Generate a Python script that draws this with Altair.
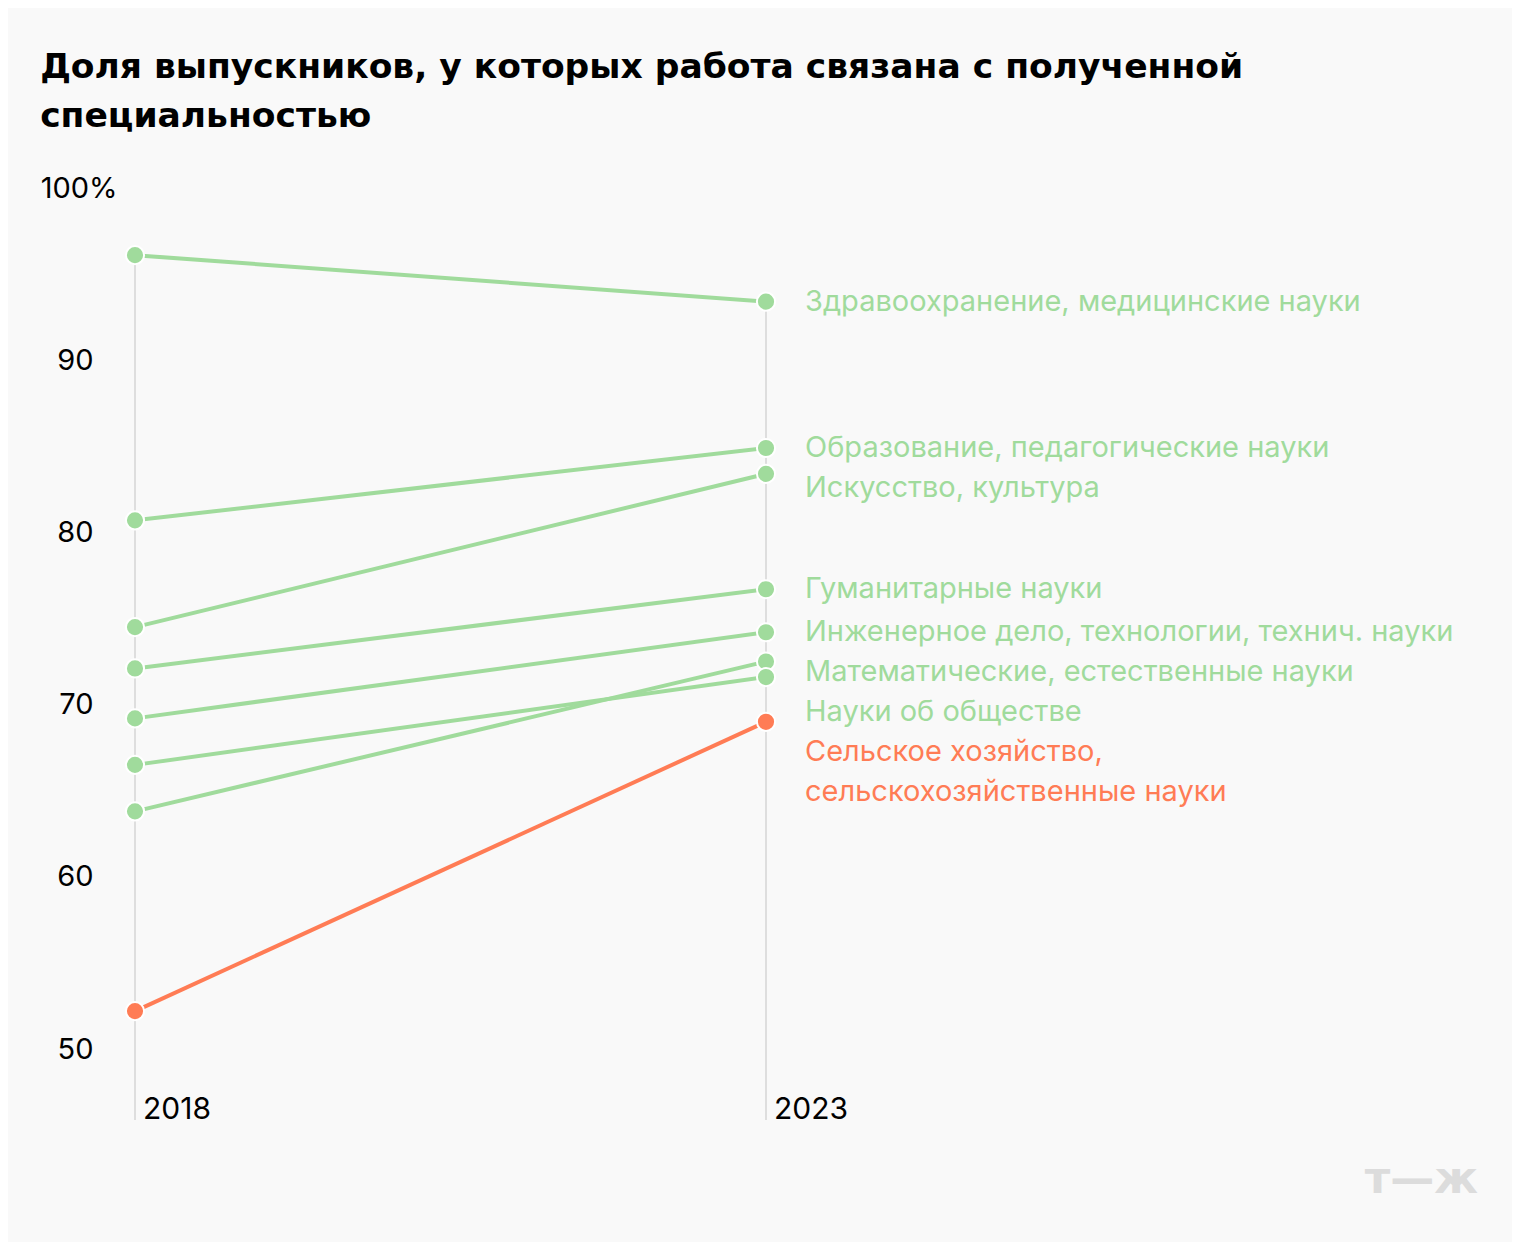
import altair as alt
import pandas as pd

# ---- data ----
categories = [
    "Здравоохранение, медицинские науки",
    "Образование, педагогические науки",
    "Искусство, культура",
    "Гуманитарные науки",
    "Инженерное дело, технологии, технич. науки",
    "Математические, естественные науки",
    "Науки об обществе",
    "Сельское хозяйство,\nсельскохозяйственные науки",
]
values_2018 = [96.1, 80.7, 74.5, 72.1, 69.2, 63.8, 66.5, 52.2]
values_2023 = [93.4, 84.9, 83.4, 76.7, 74.2, 72.5, 71.6, 69.0]
highlight = [False, False, False, False, False, False, False, True]
years = [2018, 2023]
y_ticks = [50, 60, 70, 80, 90, 100]

GREEN = "#a0db9c"
ORANGE = "#ff7c55"
FONT = "Inter"
W, H = 631, 861
Y_MIN, Y_MAX = 50, 100
LABEL_PX = 40  # spacing between label lines, pixels
gap = LABEL_PX / (H / (Y_MAX - Y_MIN))

# long table
rows = []
for c, a, b, h in zip(categories, values_2018, values_2023, highlight):
    grp = "hi" if h else "base"
    rows.append({"cat": c, "year": 2018, "value": a, "grp": grp})
    rows.append({"cat": c, "year": 2023, "value": b, "grp": grp})
df = pd.DataFrame(rows)

# label positions (simple top-down dodge); y = first line of each label
order = sorted(range(len(categories)), key=lambda i: -values_2023[i])
lab_rows = []
prev_first, prev_lines = None, 1
for i in order:
    n_lines = categories[i].count("\n") + 1
    first = values_2023[i]
    if prev_first is not None:
        first = min(first, prev_first - gap * prev_lines)
    lab_rows.append({"cat": categories[i], "year": 2023, "ly": first,
                     "grp": "hi" if highlight[i] else "base"})
    prev_first, prev_lines = first, n_lines
labels_df = pd.DataFrame(lab_rows)

years_df = pd.DataFrame({"year": years, "txt": [str(y) for y in years]})

color_scale = alt.Scale(domain=["base", "hi"], range=[GREEN, ORANGE])
xs = alt.X("year:Q", scale=alt.Scale(domain=[2018, 2023]), axis=None)
ys = alt.Scale(domain=[Y_MIN, Y_MAX], nice=False, zero=False)

base = alt.Chart(df)

rules = base.transform_aggregate(
    maxv="max(value)", groupby=["year"]
).mark_rule(color="#dedede", strokeWidth=2).encode(
    x=xs,
    y=alt.Y("maxv:Q", scale=ys,
            axis=alt.Axis(values=y_ticks, grid=False, domain=False, ticks=False,
                          labelFont=FONT, labelFontSize=29, labelColor="#000",
                          labelExpr="datum.value == 100 ? '100%' : datum.label",
                          labelPadding={"condition": {"test": "datum.value == 100", "value": 18},
                                        "value": 42},
                          title=None)),
    y2=alt.value(H + 71),
)

lines = base.mark_line(strokeWidth=4).encode(
    x=xs,
    y=alt.Y("value:Q", scale=ys),
    detail="cat:N",
    color=alt.Color("grp:N", scale=color_scale, legend=None),
    order="year:Q",
)

points = base.mark_point(filled=True, size=330, opacity=1, stroke="white",
                         strokeWidth=2, strokeOpacity=1).encode(
    x=xs,
    y=alt.Y("value:Q", scale=ys),
    fill=alt.Color("grp:N", scale=color_scale, legend=None),
)

labels = alt.Chart(labels_df).mark_text(
    align="left", baseline="middle", dx=39, font=FONT, fontSize=29,
    lineBreak="\n", lineHeight=LABEL_PX,
).encode(
    x=xs,
    y=alt.Y("ly:Q", scale=ys),
    text="cat:N",
    color=alt.Color("grp:N", scale=color_scale, legend=None),
)

year_labels = alt.Chart(years_df).mark_text(
    align="left", baseline="alphabetic", dx=8, font=FONT, fontSize=30, color="#000",
).encode(
    x=xs,
    y=alt.value(H + 70),
    text="txt:N",
)

watermark = alt.Chart(pd.DataFrame({"t": ["т—ж"]})).mark_text(
    align="right", baseline="middle", font="DejaVu Sans", fontSize=44, fontWeight="bold",
    color="#dcdcdc",
).encode(
    x=alt.value(1343),
    y=alt.value(H + 131),
    text="t:N",
)

chart = alt.layer(rules, lines, points, labels, year_labels, watermark).properties(
    width=W,
    height=H,
    autosize=alt.AutoSizeParams(type="none"),
    padding={"left": 127, "top": 180, "right": 1504 - 127 - W, "bottom": 1234 - 180 - H},
    background="#f9f9f9",
    title=alt.TitleParams(
        text=["Доля выпускников, у которых работа связана с полученной",
              "специальностью"],
        anchor="start", frame="bounds", font="DejaVu Sans", fontSize=34.5,
        fontWeight="bold", color="#000", lineHeight=49, offset=40,
    ),
).configure_view(stroke=None)

chart.save("out.html", embed_options={"renderer": "svg", "actions": False})
